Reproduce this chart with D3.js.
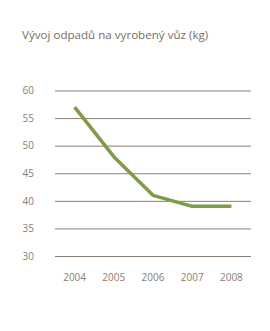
<!DOCTYPE html>
<html>
<head>
<meta charset="utf-8">
<script src="https://cdn.jsdelivr.net/npm/d3@7"></script>
<style>
  body { margin: 0; background: #fff; }
  text { font-family: "Open Sans", Lato, sans-serif; }
</style>
</head>
<body>
<div id="chart"></div>
<script>
var years = ["2004", "2005", "2006", "2007", "2008"];
var waste = [57, 48, 41, 39, 39];
var yTicks = [30, 35, 40, 45, 50, 55, 60];

var width = 270, height = 331;
var plotLeft = 55, plotRight = 251, plotTop = 90.5, plotBottom = 256;

var svg = d3.select("#chart").append("svg")
    .attr("width", width)
    .attr("height", height);

svg.append("text")
    .attr("x", 22)
    .attr("y", 39)
    .style("font-size", "11.6px")
    .style("fill", "#7a6b62")
    .text("Vývoj odpadů na vyrobený vůz (kg)");

var x = d3.scaleBand().domain(years).range([plotLeft, plotRight]);
var y = d3.scaleLinear().domain([30, 60]).range([plotBottom, plotTop]);

// gridlines + y labels
var yAxis = svg.append("g")
    .attr("transform", `translate(${plotLeft},0)`)
    .call(d3.axisLeft(y).tickValues(yTicks).tickSize(-(plotRight - plotLeft)).tickPadding(21));
yAxis.select(".domain").remove();
yAxis.selectAll(".tick line").attr("stroke", "#8c7d72").attr("stroke-width", 1);
yAxis.selectAll(".tick text")
    .style("font-size", "10px")
    .style("fill", "#8c7b70");

var xAxis = svg.append("g")
    .attr("transform", `translate(0,${plotBottom})`)
    .call(d3.axisBottom(x).tickSize(0).tickPadding(18));
xAxis.select(".domain").remove();
xAxis.selectAll(".tick text")
    .style("font-size", "10px")
    .style("fill", "#8c7b70");

var line = d3.line()
    .x((d, i) => x(years[i]) + x.bandwidth() / 2)
    .y(d => y(d));

svg.append("path")
    .datum(waste)
    .attr("d", line)
    .attr("fill", "none")
    .attr("stroke", "#7f9a48")
    .attr("stroke-width", 3.5)
    .attr("stroke-linejoin", "round");
</script>
</body>
</html>
